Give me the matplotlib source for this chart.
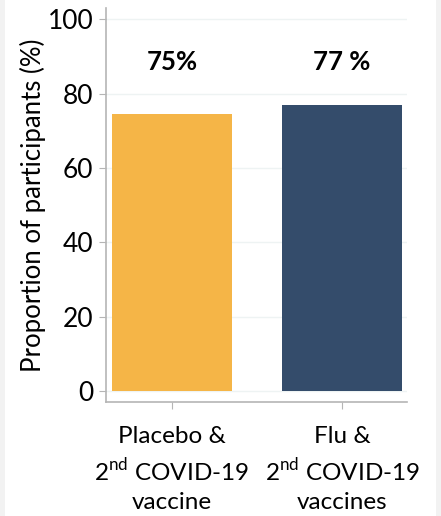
import matplotlib.pyplot as plt
from matplotlib.patches import Rectangle

# === data ===
groups = ["Placebo &\n2$^{\\mathrm{nd}}$ COVID-19\nvaccine",
          "Flu &\n2$^{\\mathrm{nd}}$ COVID-19\nvaccines"]
values = [74.5, 76.9]
value_labels = ["75%", "77 %"]
bar_colors = ["#F5B547", "#344C6B"]
y_ticks = [0, 20, 40, 60, 80, 100]

plt.rcParams['font.family'] = ['Lato', 'DejaVu Sans']
plt.rcParams['mathtext.fontset'] = 'custom'
plt.rcParams['mathtext.rm'] = 'Lato'

fig = plt.figure(figsize=(4.41, 5.16), dpi=100, facecolor="white")
# thin light-grey strips at the left and right edges
for x0, w in [(0, 5), (436, 5)]:
    fig.patches.append(Rectangle((x0 / 441, 0), w / 441, 1, transform=fig.transFigure,
                                 facecolor="#f2f2f2", edgecolor="none"))

# axes box in pixels: left 106, right 407, bottom spine y=402, top y=8
ax = fig.add_axes([106 / 441, (516 - 402) / 516, 301 / 441, 394 / 516])
ax.set_facecolor("white")

x = list(range(len(groups)))
ax.bar(x, values, width=0.706, color=bar_colors, zorder=2)

for xi, v, lab in zip(x, values, value_labels):
    ax.text(xi, 88.4, lab, ha="center", va="center", fontsize=18.5,
            fontweight="bold", color="black")

ax.set_xlim(-0.388, 1.382)
ax.set_ylim(-2.96, 103)
ax.set_yticks(y_ticks)
ax.set_xticks(x)
ax.set_xticklabels(groups, fontsize=17.5, linespacing=1.42)
ax.tick_params(axis="y", labelsize=19, length=5, color="#b5b5b5", pad=4)
ax.tick_params(axis="x", length=5, color="#b5b5b5", pad=12)
ax.yaxis.grid(True, color="#eef3f3", linewidth=1, zorder=0)
ax.set_axisbelow(True)

for side in ["top", "right"]:
    ax.spines[side].set_visible(False)
for side in ["left", "bottom"]:
    ax.spines[side].set_color("#b5b5b5")
    ax.spines[side].set_linewidth(1.2)

ax.set_ylabel("Proportion of participants (%)", fontsize=18.5)
ax.yaxis.set_label_coords(-0.2, 0.5)

fig.savefig("out.png", dpi=100, facecolor=fig.get_facecolor())
